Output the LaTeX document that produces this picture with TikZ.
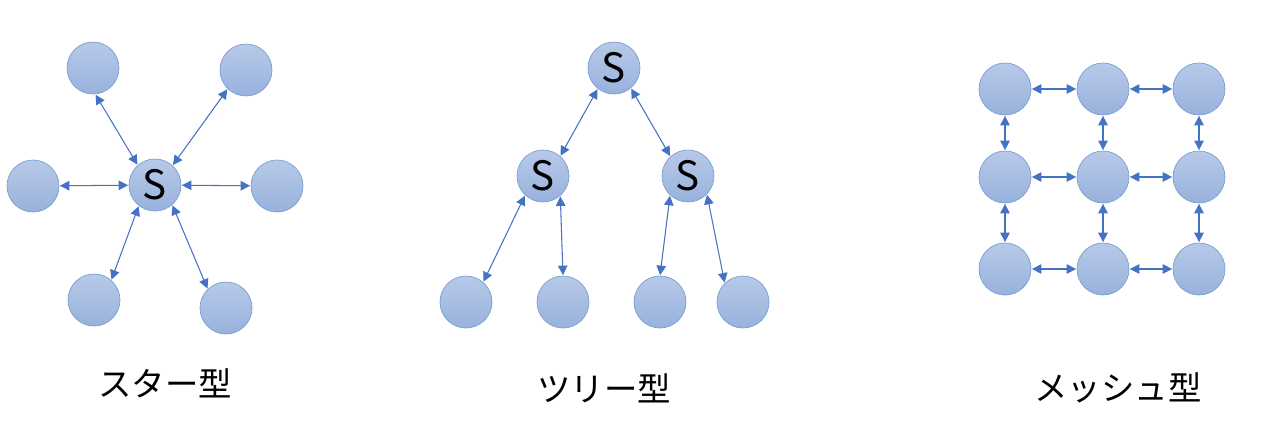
\documentclass[tikz,border=0pt]{standalone}
\usepackage{fontspec}
\usepackage{tikz}
\usepackage{xcolor}
\usetikzlibrary{arrows.meta}
\newfontfamily\jpfont{Noto Sans CJK JP}
\definecolor{node-top}{RGB}{183,201,232}
\definecolor{node-bottom}{RGB}{152,178,221}
\definecolor{node-line}{RGB}{120,160,210}
\definecolor{link-blue}{RGB}{68,114,196}
\newlength{\pxu}
\setlength{\pxu}{0.2mm}
\tikzset{
    host-node/.style = {circle, draw=node-line, thin, top color=node-top, bottom color=node-bottom, minimum size=52\pxu, inner sep=0pt, font=\jpfont\fontsize{23}{23}\selectfont},
    link-arrow/.style = {draw=link-blue, line width=0.6pt, {Triangle[length=1.9mm, width=1.9mm]}-{Triangle[length=1.9mm, width=1.9mm]}, shorten <=0.3pt, shorten >=0.3pt},
    type-label/.style = {font=\jpfont\fontsize{19}{19}\selectfont},
}

\begin{document}
\begin{tikzpicture}[x=0.02cm, y=-0.02cm]
\useasboundingbox (0,0) rectangle (1270,426);

% star
\node[host-node] (star-s) at (155,185) {S};
\node[host-node] (star-a) at (93,68) {};
\node[host-node] (star-b) at (246,70) {};
\node[host-node] (star-c) at (33,186) {};
\node[host-node] (star-d) at (277,186) {};
\node[host-node] (star-e) at (94,300) {};
\node[host-node] (star-f) at (226,308) {};
\draw[link-arrow] (star-s.131) -- (star-a.-85);
\draw[link-arrow] (star-s.48) -- (star-b.-134);
\draw[link-arrow] (star-s) -- (star-c);
\draw[link-arrow] (star-s) -- (star-d);
\draw[link-arrow] (star-s.-128) -- (star-e.49);
\draw[link-arrow] (star-s.-49) -- (star-f.134);
\node[type-label] (star-label) at (165,383) {スター型};

% tree
\node[host-node] (tree-root) at (614,68) {S};
\node[host-node] (tree-l) at (543,176) {S};
\node[host-node] (tree-r) at (688,176) {S};
\node[host-node] (tree-la) at (466,302) {};
\node[host-node] (tree-lb) at (563,302) {};
\node[host-node] (tree-ra) at (660,302) {};
\node[host-node] (tree-rb) at (743,302) {};
\draw[link-arrow] (tree-root.-128) -- (tree-l.49);
\draw[link-arrow] (tree-root.-50) -- (tree-r.132);
\draw[link-arrow] (tree-l.-133) -- (tree-la.49);
\draw[link-arrow] (tree-l.-49) -- (tree-lb.north);
\draw[link-arrow] (tree-r.-133) -- (tree-ra.north);
\draw[link-arrow] (tree-r.-44) -- (tree-rb.134);
\node[type-label] (tree-label) at (604,388) {ツリー型};

% mesh
\foreach \x/\cx in {1/1005,2/1103,3/1199}
    \foreach \y/\cy in {1/89,2/177,3/269}
        \node[host-node] (mesh-\x\y) at (\cx,\cy) {};
\foreach \y in {1,2,3} {
    \draw[link-arrow] (mesh-1\y) -- (mesh-2\y);
    \draw[link-arrow] (mesh-2\y) -- (mesh-3\y);
}
\foreach \x in {1,2,3} {
    \draw[link-arrow] (mesh-\x1) -- (mesh-\x2);
    \draw[link-arrow] (mesh-\x2) -- (mesh-\x3);
}
\node[type-label] (mesh-label) at (1118,388) {メッシュ型};
\end{tikzpicture}
\end{document}
